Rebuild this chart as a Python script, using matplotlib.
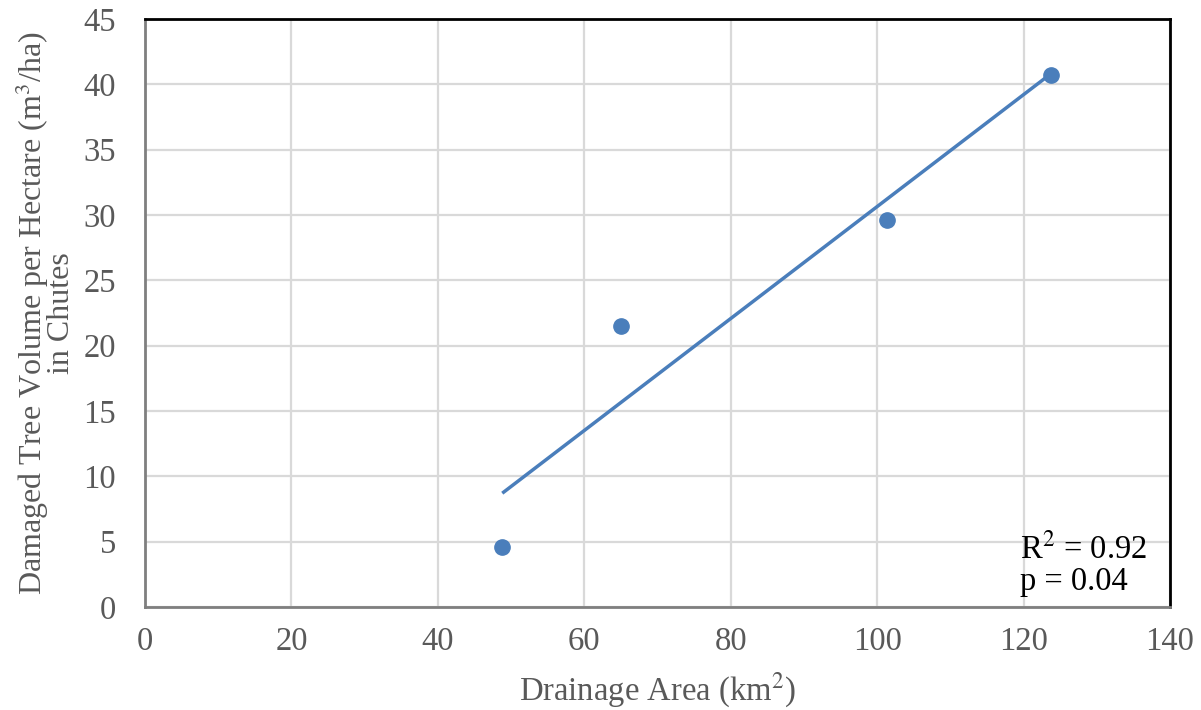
import numpy as np
import matplotlib
matplotlib.use("Agg")
import matplotlib.pyplot as plt

# Drainage area (km²) and damaged tree volume per hectare (m³/ha)
drainage_area = [48.8, 65.0, 101.3, 123.8]
damaged_volume = [4.6, 21.5, 29.6, 40.7]

x_ticks = [0, 20, 40, 60, 80, 100, 120, 140]
y_ticks = [0, 5, 10, 15, 20, 25, 30, 35, 40, 45]

plt.rcParams['font.family'] = ['Liberation Serif', 'DejaVu Serif']
plt.rcParams['mathtext.fontset'] = 'stix'

BLUE = '#4A7EBB'
GRAY_TXT = '#595959'
FS = 23.5

fig = plt.figure(figsize=(12.01, 7.10), dpi=100)
ax = fig.add_axes([0.1207, 0.1451, 0.8535, 0.8281])

# Linear least-squares fit
x = np.array(drainage_area)
y = np.array(damaged_volume)
slope, intercept = np.polyfit(x, y, 1)
r2 = np.corrcoef(x, y)[0, 1] ** 2
t = np.sqrt(r2) * np.sqrt(len(x) - 2) / np.sqrt(1 - r2)
p = 1 - t / np.sqrt(2 + t ** 2)  # two-sided p for df = 2

xs = np.array([x.min(), x.max()])
ax.plot(xs, slope * xs + intercept, color=BLUE, lw=2.5, solid_capstyle='butt', zorder=3)
ax.plot(x, y, 'o', color=BLUE, ms=11, mec=BLUE, zorder=4)

ax.set_xlim(0, 140)
ax.set_ylim(0, 45)
ax.set_xticks(x_ticks)
ax.set_yticks(y_ticks)
ax.grid(True, color='#D9D9D9', lw=1.6)
ax.set_axisbelow(True)
ax.tick_params(axis='both', length=0, labelsize=FS, labelcolor=GRAY_TXT)
ax.tick_params(axis='y', pad=21)
ax.tick_params(axis='x', pad=14)

for side in ('top', 'right'):
    ax.spines[side].set_color('black')
    ax.spines[side].set_linewidth(2)
for side in ('left', 'bottom'):
    ax.spines[side].set_color('#7F7F7F')
    ax.spines[side].set_linewidth(2)

ax.set_xlabel('Drainage Area (km$^2$)', fontsize=FS, color=GRAY_TXT, labelpad=10)
ax.set_ylabel('Damaged Tree Volume per Hectare (m$^3$/ha)\nin Chutes',
              fontsize=23, color=GRAY_TXT, labelpad=5, linespacing=0.82)

ax.text(0.854, 0.071, f'R$^2$ = {r2:.2f}\np = {p:.2f}', transform=ax.transAxes,
        fontsize=FS, color='black', va='center', ha='left', linespacing=1.05)

fig.savefig('out.png', dpi=100)
